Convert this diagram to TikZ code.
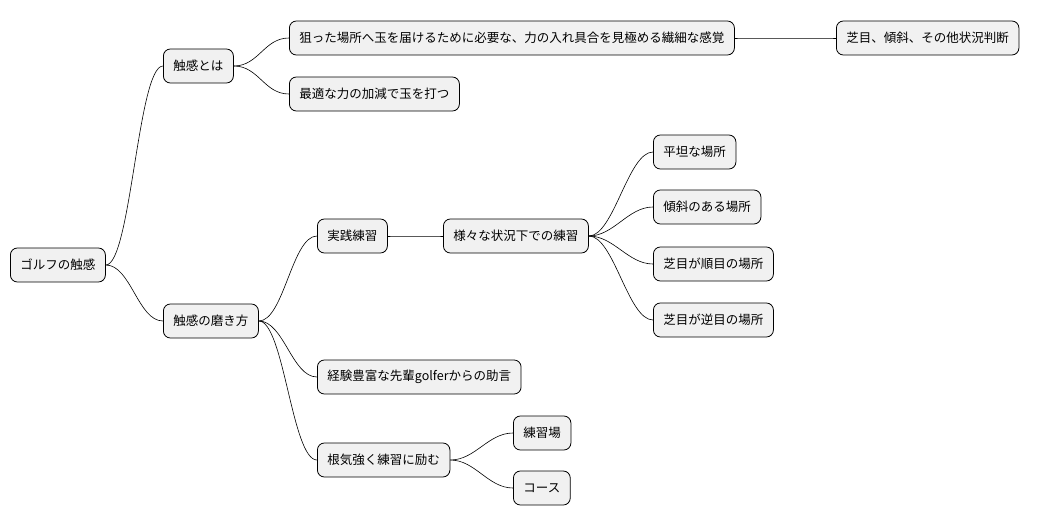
\documentclass[tikz,border=0pt]{standalone}
\usepackage{fontspec}
\setmainfont{Noto Sans CJK JP}
\begin{document}
\begin{tikzpicture}[x=1pt,y=-1pt,
 box/.style={draw=black,fill={rgb,255:red,241;green,241;blue,241},rounded corners=7pt,line width=0.8pt,
   minimum height=34pt,inner xsep=10pt,anchor=west,font=\fontsize{12.5pt}{14pt}\selectfont},
 ln/.style={line width=0.6pt}]
\useasboundingbox (0,0) rectangle (1048,527);
\node[box] (r) at (10,265) {ゴルフの触感};
\node[box] (a) at (163,66) {触感とは};
\node[box] (a1) at (289,38) {狙った場所へ玉を届けるために必要な、力の入れ具合を見極める繊細な感覚};
\node[box] (a11) at (836,38) {芝目、傾斜、その他状況判断};
\node[box] (a2) at (289,94) {最適な力の加減で玉を打つ};
\node[box] (b) at (163,321) {触感の磨き方};
\node[box] (b1) at (317,236) {実践練習};
\node[box] (b11) at (443,236) {様々な状況下での練習};
\node[box] (c1) at (653,152) {平坦な場所};
\node[box] (c2) at (653,207) {傾斜のある場所};
\node[box] (c3) at (653,264) {芝目が順目の場所};
\node[box] (c4) at (653,320) {芝目が逆目の場所};
\node[box] (b2) at (317,377) {経験豊富な先輩golferからの助言};
\node[box] (b3) at (317,460) {根気強く練習に励む};
\node[box] (d1) at (513,433) {練習場};
\node[box] (d2) at (513,488) {コース};
\foreach \p/\c in {r/a,r/b,a/a1,a/a2,a1/a11,b/b1,b/b2,b/b3,b1/b11,b11/c1,b11/c2,b11/c3,b11/c4,b3/d1,b3/d2}
  \draw[ln] (\p.east) .. controls +(25,0) and +(-25,0) .. (\c.west);
\end{tikzpicture}
\end{document}
